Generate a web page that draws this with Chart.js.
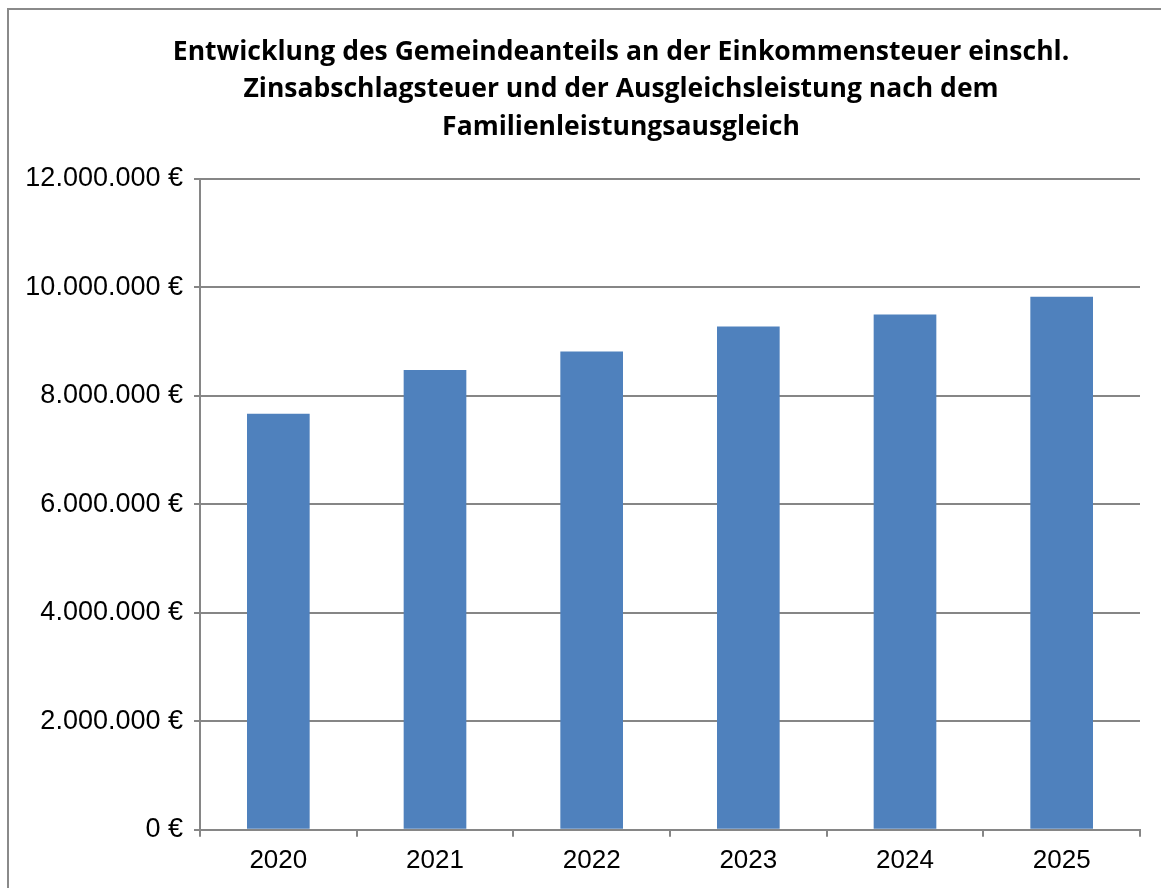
<!DOCTYPE html>
<html>
<head>
<meta charset="utf-8">
<script src="https://cdn.jsdelivr.net/npm/chart.js@4.4.1/dist/chart.umd.min.js"></script>
<style>
  html, body { margin: 0; padding: 0; background: #fff; }
  #wrap { position: relative; width: 1161px; height: 888px; overflow: hidden; }
  #frame { position: absolute; left: 7px; top: 8px; width: 1180px; height: 920px; border: 2px solid #8a8a8a; box-sizing: border-box; }
  canvas { position: absolute; left: 0; top: 0; }
</style>
</head>
<body>
<div id="wrap">
  <div id="frame"></div>
  <canvas id="c" width="1161" height="888"></canvas>
</div>
<script>
const titleLines = [
  "Entwicklung des Gemeindeanteils an der Einkommensteuer einschl.",
  "Zinsabschlagsteuer und der Ausgleichsleistung nach dem",
  "Familienleistungsausgleich"
];
const years = ["2020", "2021", "2022", "2023", "2024", "2025"];
const values = [7670000, 8480000, 8820000, 9280000, 9500000, 9830000];
const yMax = 12000000;
const yStep = 2000000;

function fmtEuro(v) {
  return Math.round(v).toString().replace(/\B(?=(\d{3})+(?!\d))/g, ".") + " €";
}

// Title drawn centred over the chart frame (Excel-style placement)
const centredTitle = {
  id: "centredTitle",
  afterDraw(chart) {
    const ctx = chart.ctx;
    ctx.save();
    ctx.fillStyle = "#000";
    ctx.font = "bold 26.5px 'Open Sans', sans-serif";
    ctx.textAlign = "center";
    ctx.textBaseline = "middle";
    const cx = 621, y0 = 52, lh = 37.5;
    titleLines.forEach((t, i) => ctx.fillText(t, cx, y0 + i * lh));
    ctx.restore();
  }
};

new Chart(document.getElementById("c"), {
  type: "bar",
  data: {
    labels: years,
    datasets: [{
      data: values,
      backgroundColor: "#4f81bd",
      borderWidth: 0,
      categoryPercentage: 1.0,
      barPercentage: 0.4
    }]
  },
  plugins: [centredTitle],
  options: {
    responsive: false,
    animation: false,
    layout: { padding: { left: 0, right: 21, top: 179, bottom: 4 } },
    plugins: {
      legend: { display: false },
      tooltip: { enabled: false },
      title: { display: false }
    },
    scales: {
      x: {
        offset: true,
        grid: { display: true, drawOnChartArea: false, drawTicks: true, tickLength: 7, color: "#868686", lineWidth: 2, offset: true },
        border: { display: true, color: "#868686", width: 2 },
        ticks: { color: "#000", font: { family: "'Liberation Sans', Arial, sans-serif", size: 26 }, padding: 8 }
      },
      y: {
        min: 0,
        max: yMax,
        afterFit: (s) => { s.width = 200; },
        grid: { color: "#868686", lineWidth: 2, tickLength: 6 },
        border: { display: true, color: "#868686", width: 2 },
        ticks: {
          stepSize: yStep,
          color: "#000",
          font: { family: "'Liberation Sans', Arial, sans-serif", size: 27 },
          padding: 11,
          callback: (v) => fmtEuro(v)
        }
      }
    }
  }
});
</script>
</body>
</html>
